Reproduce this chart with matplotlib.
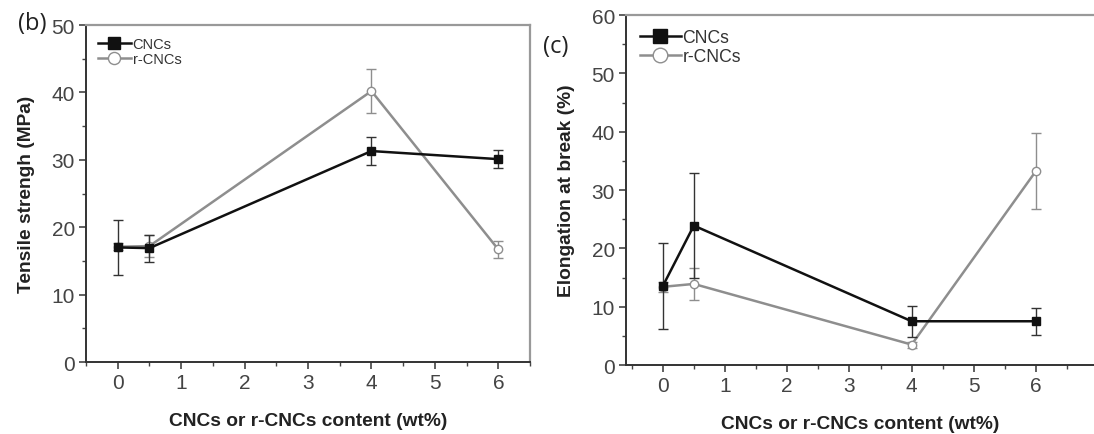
import matplotlib
matplotlib.use("Agg")
import matplotlib.pyplot as plt
from matplotlib.ticker import MultipleLocator

plt.rcParams['font.family'] = ['Liberation Sans', 'DejaVu Sans']

content = [0, 0.5, 4, 6]

# (b) tensile strength
ts_cnc = [17.0, 16.9, 31.3, 30.1]
ts_cnc_err = [4.1, 2.0, 2.1, 1.3]
ts_rcnc = [17.1, 17.2, 40.2, 16.7]
ts_rcnc_err = [0.5, 1.6, 3.2, 1.2]

# (c) elongation at break
eb_cnc = [13.5, 23.9, 7.5, 7.5]
eb_cnc_err = [7.4, 9.0, 2.7, 2.3]
eb_rcnc = [13.4, 13.9, 3.5, 33.3]
eb_rcnc_err = [0.8, 2.8, 0.5, 6.5]

xlabel = 'CNCs or r-CNCs content (wt%)'
black = '#111111'
gray = '#8e8e8e'
tickcol = '#444444'

fig = plt.figure(figsize=(10.94, 4.35), dpi=100)
ax1 = fig.add_axes([0.0786, 0.1655, 0.4059, 0.7747])
ax2 = fig.add_axes([0.5722, 0.1586, 0.4278, 0.8046])


def draw(ax, y1, e1, y2, e2, leg_size, mscale):
    ax.errorbar(content, y2, yerr=e2, fmt='none', ecolor=gray, elinewidth=1.0,
                capsize=3.5, capthick=1.0, zorder=2)
    ax.plot(content, y2, color=gray, lw=1.8, marker='o', ms=6,
            mfc='white', mec=gray, mew=1.0, label='r-CNCs', zorder=2)
    ax.errorbar(content, y1, yerr=e1, fmt='none', ecolor='#333333',
                elinewidth=1.0, capsize=3.5, capthick=1.0, zorder=3)
    ax.plot(content, y1, color=black, lw=1.8, marker='s', ms=6,
            mfc=black, mec=black, label='CNCs', zorder=3)
    h, l = ax.get_legend_handles_labels()
    leg = ax.legend(h[::-1], l[::-1], loc='upper left', frameon=False,
                    fontsize=leg_size, handlelength=2.3, handletextpad=0.1,
                    labelspacing=0.1, borderaxespad=0.4, markerscale=mscale)
    for t in leg.get_texts():
        t.set_color('#333333')
    ax.xaxis.set_major_locator(MultipleLocator(1))
    ax.xaxis.set_minor_locator(MultipleLocator(0.5))
    ax.yaxis.set_major_locator(MultipleLocator(10))
    ax.yaxis.set_minor_locator(MultipleLocator(5))
    ax.tick_params(which='major', direction='out', length=5, width=1.2,
                   colors='#444444', labelsize=15, labelcolor=tickcol, pad=3)
    ax.tick_params(which='minor', direction='out', length=3, width=1.0,
                   colors='#444444')
    for s in ['left', 'bottom']:
        ax.spines[s].set_color('#333333')
        ax.spines[s].set_linewidth(1.4)
    for s in ['top', 'right']:
        ax.spines[s].set_color('#999999')
        ax.spines[s].set_linewidth(1.6)
    ax.set_xlabel(xlabel, fontsize=13.8, fontweight='bold', color='#222222',
                  labelpad=14)


draw(ax1, ts_cnc, ts_cnc_err, ts_rcnc, ts_rcnc_err, 10.5, 1.45)
ax1.set_xlim(-0.5, 6.5)
ax1.set_ylim(0, 50)
ax1.set_ylabel('Tensile strengh (MPa)', fontsize=13.8, fontweight='bold',
               color='#222222', labelpad=12)

draw(ax2, eb_cnc, eb_cnc_err, eb_rcnc, eb_rcnc_err, 12.7, 1.75)
ax2.set_xlim(-0.59, 6.93)
ax2.set_ylim(0, 60)
ax2.spines['right'].set_visible(False)
ax2.set_ylabel('Elongation at break (%)', fontsize=13.8, fontweight='bold',
               color='#222222', labelpad=12)

fig.text(0.016, 0.945, '(b)', fontsize=17, family=['Open Sans', 'DejaVu Sans'],
         color='#222222', va='center')
fig.text(0.496, 0.893, '(c)', fontsize=17, family=['Open Sans', 'DejaVu Sans'],
         color='#222222', va='center')

fig.savefig('out.png', dpi=100)
